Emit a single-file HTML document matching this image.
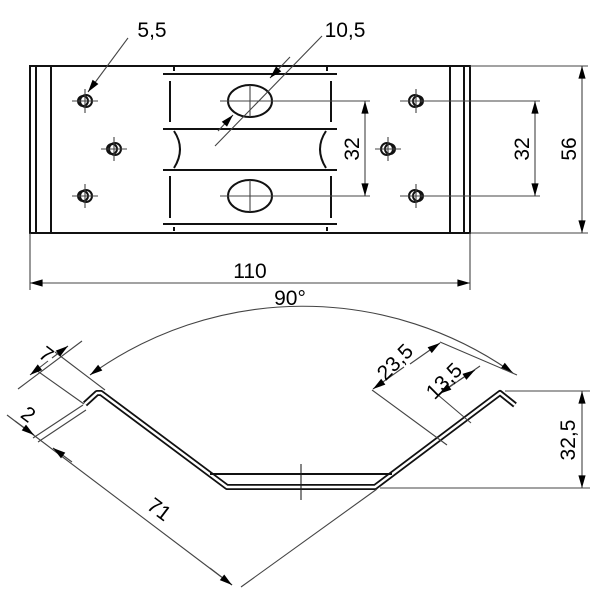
<!DOCTYPE html>
<html><head><meta charset="utf-8"><style>
html,body{margin:0;padding:0;background:#fff;}
svg{display:block;}
text{font-family:"Liberation Sans",Arial,sans-serif;font-size:21px;fill:#000;}
</style></head><body>
<svg width="600" height="600" viewBox="0 0 600 600" xmlns="http://www.w3.org/2000/svg">
<defs>
<marker id="a" viewBox="0 0 14 10" refX="14" refY="5" markerWidth="14" markerHeight="9" orient="auto-start-reverse" markerUnits="userSpaceOnUse"><path d="M0,1 L14,5 L0,9 z" fill="#000"/></marker>
</defs>
<g fill="none" stroke="#111" stroke-width="2">
<rect x="30" y="66" width="440" height="167"/>
<line x1="36" y1="66" x2="36" y2="233"/><line x1="51" y1="66" x2="51" y2="233"/>
<line x1="450" y1="66" x2="450" y2="233"/><line x1="464" y1="66" x2="464" y2="233"/>
<line x1="163" y1="74" x2="337" y2="74"/><line x1="163" y1="129" x2="337" y2="129"/>
<line x1="163" y1="170" x2="337" y2="170"/><line x1="163" y1="224" x2="337" y2="224"/>
<line x1="170" y1="81" x2="170" y2="122"/><line x1="170" y1="176" x2="170" y2="218"/>
<line x1="331" y1="81" x2="331" y2="122"/><line x1="331" y1="176" x2="331" y2="218"/>
<line x1="174" y1="67" x2="174" y2="71"/><line x1="174" y1="227" x2="174" y2="231"/>
<line x1="327" y1="67" x2="327" y2="71"/><line x1="327" y1="227" x2="327" y2="231"/>
<path d="M174,131 Q186,149 174,168"/><path d="M326,131 Q314,149 326,168"/>
<ellipse cx="250" cy="101" rx="22" ry="16"/><ellipse cx="250" cy="196" rx="22" ry="16"/>
<circle cx="86" cy="101" r="6"/><circle cx="83" cy="101" r="5"/>
<circle cx="86" cy="196" r="6"/><circle cx="83" cy="196" r="5"/>
<circle cx="115" cy="149" r="6"/><circle cx="112" cy="149" r="5"/>
<circle cx="415" cy="101" r="6"/><circle cx="418" cy="101" r="5"/>
<circle cx="415" cy="196" r="6"/><circle cx="418" cy="196" r="5"/>
<circle cx="387" cy="149" r="6"/><circle cx="390" cy="149" r="5"/>
<path d="M85,404 L97,393 L101,393 L227,487 L375,487 L500,393 L515,405" stroke-width="6" stroke-linejoin="round"/>
<path d="M85,404 L97,393 L101,393 L227,487 L375,487 L500,393 L515,405" stroke="#fff" stroke-width="2.4" stroke-linejoin="round"/>
<line x1="210" y1="474" x2="392" y2="474"/>
</g>
<g fill="none" stroke="#444" stroke-width="1.1">
<path d="M72,101h26M85,89v24M72,196h26M85,184v24M101,149h26M114,137v24M403,101h26M416,89v24M403,196h26M416,184v24M375,149h26M388,137v24"/>
<path d="M220,101h150M250,85v32M220,196h150M250,180v32"/>
<path d="M400,101h140M400,196h140M470,66h118M470,233h118M30,233v57M470,233v57"/>
<line x1="365" y1="101" x2="365" y2="196" marker-start="url(#a)" marker-end="url(#a)"/>
<line x1="535" y1="101" x2="535" y2="196" marker-start="url(#a)" marker-end="url(#a)"/>
<line x1="582" y1="66" x2="582" y2="233" marker-start="url(#a)" marker-end="url(#a)"/>
<line x1="30" y1="283" x2="470" y2="283" marker-start="url(#a)" marker-end="url(#a)"/>
<line x1="128" y1="38" x2="88" y2="92" marker-end="url(#a)"/>
<line x1="322" y1="36" x2="215" y2="146"/>
<line x1="290" y1="57" x2="270" y2="78" marker-end="url(#a)"/>
<line x1="218" y1="131" x2="233" y2="115" marker-end="url(#a)"/>
<path d="M90,375 A364,364 0 0 1 513,373" marker-start="url(#a)" marker-end="url(#a)"/>
<line x1="301" y1="464" x2="301" y2="500" stroke="#222"/>
<path d="M505,391h85M380,488h210"/>
<line x1="582" y1="391" x2="582" y2="488" marker-start="url(#a)" marker-end="url(#a)"/>
<path d="M55,352L105,390M36,370L84,404M83,405L33,438M86,410L38,442"/>
<line x1="18" y1="389" x2="82" y2="341"/>
<line x1="48" y1="361" x2="30" y2="375" marker-end="url(#a)"/>
<line x1="52" y1="358" x2="68" y2="346" marker-end="url(#a)"/>
<line x1="7" y1="415" x2="232" y2="585"/>
<line x1="15" y1="421" x2="34" y2="435" marker-end="url(#a)"/>
<line x1="72" y1="462" x2="53" y2="448" marker-end="url(#a)"/>
<line x1="210" y1="568" x2="232" y2="585" marker-end="url(#a)"/>
<path d="M241,587L377,489"/>
<path d="M372,390L447,445M440,342L517,375M438,395L471,423"/>
<line x1="404" y1="367" x2="373" y2="389" marker-end="url(#a)"/>
<line x1="410" y1="364" x2="440" y2="343" marker-end="url(#a)"/>
<line x1="438" y1="395" x2="480" y2="366"/>
<line x1="456" y1="382" x2="439" y2="394" marker-end="url(#a)"/>
<line x1="458" y1="381" x2="475" y2="370" marker-end="url(#a)"/>
</g>
<text x="152" y="37" text-anchor="middle">5,5</text>
<text x="345" y="37" text-anchor="middle">10,5</text>
<text x="250" y="278" text-anchor="middle">110</text>
<text x="290" y="305" text-anchor="middle">90°</text>
<text transform="translate(359,149) rotate(-90)" text-anchor="middle">32</text>
<text transform="translate(529,149) rotate(-90)" text-anchor="middle">32</text>
<text transform="translate(576,149) rotate(-90)" text-anchor="middle">56</text>
<text transform="translate(575,440) rotate(-90)" text-anchor="middle">32,5</text>
<text transform="translate(42,360) rotate(37)" text-anchor="middle">7</text>
<text transform="translate(24,420) rotate(37)" text-anchor="middle">2</text>
<text transform="translate(155,515) rotate(37)" text-anchor="middle">71</text>
<text transform="translate(400,367) rotate(-45)" text-anchor="middle">23,5</text>
<text transform="translate(449,386) rotate(-45)" text-anchor="middle">13,5</text>
</svg>
</body></html>
